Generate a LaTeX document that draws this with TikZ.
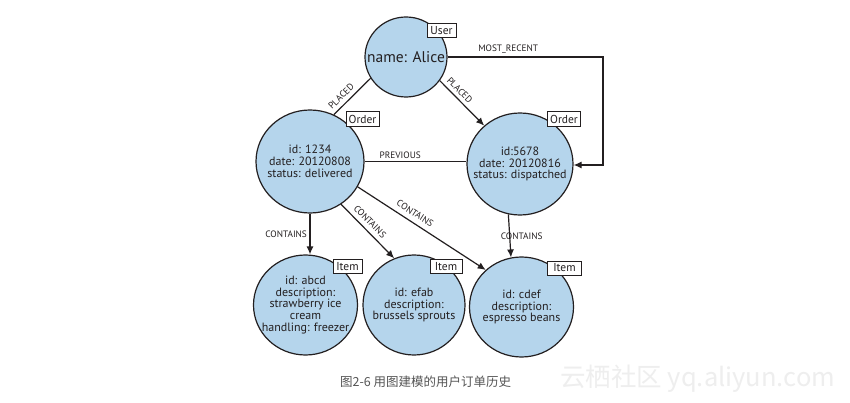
\documentclass[tikz,border=0pt]{standalone}
\usepackage{fontspec}
\setmainfont{PT Sans}
\newfontfamily\cjk{Noto Sans CJK SC}
\usetikzlibrary{arrows.meta,calc,shapes.geometric}
\definecolor{nodefill}{HTML}{B5D5EC}
\definecolor{ink}{HTML}{231F20}
\definecolor{captiongray}{HTML}{555555}
\definecolor{wmgray}{HTML}{EEEEEE}
\tikzset{
  ent/.style={ellipse,draw=ink,fill=nodefill,line width=1.2pt,inner sep=0pt},
  enttext/.style={inner sep=0pt,text=ink,align=center,font=\fontsize{12}{11.8}\selectfont},
  tagbox/.style={draw=ink,fill=white,line width=1pt,inner sep=0pt,text=ink,font=\fontsize{11.5}{12}\selectfont},
  rel/.style={draw=ink,line width=1.2pt},
  relarrow/.style={rel,-{Latex[length=8pt,width=7pt]}},
  rlabel/.style={text=ink,font=\fontsize{9.3}{10}\selectfont,inner sep=1pt}
}
\begin{document}
\begin{tikzpicture}[x=1pt,y=-1pt]
\useasboundingbox[fill=white] (0,0) rectangle (850,403);
% entity circles
\node[ent,minimum width=82pt,minimum height=80pt] (alice) at (406,57) {};
\node[ent,minimum width=108pt,minimum height=103pt] (o1) at (310,161.5) {};
\node[ent,minimum width=106pt,minimum height=102pt] (o2) at (520,164) {};
\node[ent,minimum width=104pt,minimum height=100pt] (i1) at (305.5,305) {};
\node[ent,minimum width=102pt,minimum height=100pt] (i2) at (414,305) {};
\node[ent,minimum width=104pt,minimum height=100pt] (i3) at (521.5,307) {};
% entity texts
\node[enttext,font=\fontsize{15.5}{16}\selectfont] (alicet) at (alice) {name: Alice};
\node[enttext] (o1t) at (o1) {id: 1234\\date: 20120808\\status: delivered};
\node[enttext] (o2t) at (o2) {id:5678\\date: 20120816\\status: dispatched};
\node[enttext] (i1t) at (i1) {id: abcd\\description:\\strawberry ice\\cream\\handling: freezer};
\node[enttext] (i2t) at (i2) {id: efab\\description:\\brussels sprouts};
\node[enttext] (i3t) at (i3) {id: cdef\\description:\\espresso beans};
% type tags
\node[tagbox,minimum width=29pt,minimum height=14pt] (tuser) at (441.5,30.5) {User};
\node[tagbox,minimum width=33pt,minimum height=15pt] (to1) at (362.5,119.5) {Order};
\node[tagbox,minimum width=33pt,minimum height=15pt] (to2) at (564,119.5) {Order};
\node[tagbox,minimum width=29pt,minimum height=14pt] (ti1) at (347.5,266.5) {Item};
\node[tagbox,minimum width=32pt,minimum height=14pt] (ti2) at (446,266.5) {Item};
\node[tagbox,minimum width=34pt,minimum height=14pt] (ti3) at (564.5,268) {Item};
% relationships
\coordinate (mr1) at (603,57);
\coordinate (mr2) at (603,165);
\draw[rel] (alice.211.7) -- node[rlabel,sloped,above=3pt,pos=0.65] {PLACED} (o1.63.2);
\draw[relarrow] (alice.-35.7) -- node[rlabel,sloped,above=2.5pt,pos=0.33] {PLACED} (o2.133.6);
\draw[relarrow] (alice.east |- mr1) -- node[rlabel,above=1.5pt,pos=0.39] {MOST\_RECENT} (mr1) -- (mr2) -- (o2.east |- mr2);
\draw[rel] (o2.west |- o1.east) -- node[rlabel,above=1.5pt,pos=0.65] {PREVIOUS} (o1.east);
\draw[relarrow] (o1.south) -- node[rlabel,left=1.5pt,pos=0.5] {CONTAINS} (o1.south |- i1.north);
\draw[relarrow] (o1.-54.9) -- node[rlabel,sloped,above=3.5pt,pos=0.43] {CONTAINS} (i2.113.7);
\draw[relarrow] (o1.-28.9) -- node[rlabel,sloped,above=4pt,pos=0.41] {CONTAINS} (i3.134.6);
\draw[relarrow] (o2.257.6) -- node[rlabel,pos=0.5,xshift=12pt] {CONTAINS} (i3.102.7);
% caption and watermark
\node[text=captiongray,font=\cjk\fontsize{12.5}{14}\selectfont,anchor=west,inner sep=0pt] (cap) at (340,382) {图2-6 用图建模的用户订单历史};
\node[text=wmgray,font=\cjk\fontsize{25.5}{27}\selectfont,anchor=west,inner sep=0pt] (wm) at (560,379) {云栖社区 yq.aliyun.com};
\end{tikzpicture}
\end{document}
